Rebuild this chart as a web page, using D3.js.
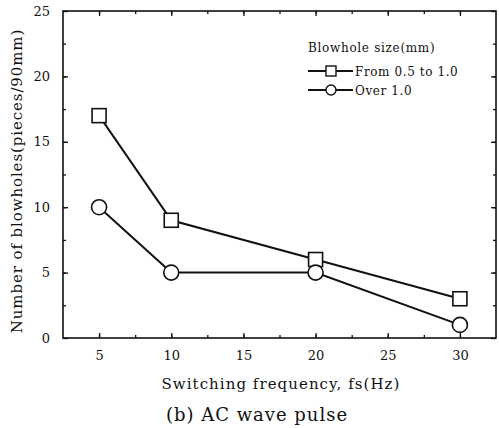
<!DOCTYPE html>
<html>
<head>
<meta charset="utf-8">
<script src="https://cdn.jsdelivr.net/npm/d3@7"></script>
<style>
  body { margin: 0; background: #fff; }
  text { font-family: "DejaVu Serif", "Liberation Serif", serif; fill: #111; }
</style>
</head>
<body>
<svg width="499" height="428"></svg>
<script>
// data
var freqs = [5, 10, 20, 30];
var smallHoles = [17, 9, 6, 3];   // From 0.5 to 1.0
var largeHoles = [10, 5, 5, 1];   // Over 1.0
var xTicks = [5, 10, 15, 20, 25, 30];
var yTicks = [0, 5, 10, 15, 20, 25];
var seriesNames = ["From 0.5 to 1.0", "Over 1.0"];

var svg = d3.select("svg");
var margin = { top: 11, right: 3, bottom: 90, left: 63 };
var width = 499 - margin.left - margin.right;
var height = 428 - margin.top - margin.bottom;

var g = svg.append("g")
    .attr("transform", "translate(" + margin.left + "," + margin.top + ")");

var x = d3.scaleLinear().domain([2.5, 32.5]).range([0, width]);
var y = d3.scaleLinear().domain([0, 25]).range([height, 0]);

// frame
g.append("rect")
    .attr("width", width).attr("height", height)
    .attr("fill", "none").attr("stroke", "#111").attr("stroke-width", 1.6);

var minorX = d3.range(5, 32.5, 2.5);
var minorY = d3.range(2.5, 25, 2.5);

// bottom axis (ticks inward)
var bottomAxis = g.append("g")
    .attr("transform", "translate(0," + height + ")")
    .call(d3.axisBottom(x).tickValues(xTicks).tickSize(-5).tickPadding(13).tickFormat(d3.format("d")));
bottomAxis.select(".domain").remove();
bottomAxis.selectAll("text").attr("font-size", 13).attr("font-family", "DejaVu Serif");
g.append("g")
    .attr("transform", "translate(0," + height + ")")
    .call(d3.axisBottom(x).tickValues(minorX).tickSize(-3).tickFormat(""))
    .select(".domain").remove();

// top axis
g.append("g")
    .call(d3.axisTop(x).tickValues(xTicks).tickSize(-5).tickFormat(""))
    .select(".domain").remove();
g.append("g")
    .call(d3.axisTop(x).tickValues(minorX).tickSize(-3).tickFormat(""))
    .select(".domain").remove();

// left axis
var leftAxis = g.append("g")
    .call(d3.axisLeft(y).tickValues(yTicks).tickSize(-5).tickPadding(13).tickFormat(d3.format("d")));
leftAxis.select(".domain").remove();
leftAxis.selectAll("text").attr("font-size", 13).attr("font-family", "DejaVu Serif");
g.append("g")
    .call(d3.axisLeft(y).tickValues(minorY).tickSize(-3).tickFormat(""))
    .select(".domain").remove();

// right axis
g.append("g")
    .attr("transform", "translate(" + width + ",0)")
    .call(d3.axisRight(y).tickValues(yTicks).tickSize(-5).tickFormat(""))
    .select(".domain").remove();
g.append("g")
    .attr("transform", "translate(" + width + ",0)")
    .call(d3.axisRight(y).tickValues(minorY).tickSize(-3).tickFormat(""))
    .select(".domain").remove();

g.selectAll(".tick line").attr("stroke", "#111").attr("stroke-width", 1.3);

// lines
var line = d3.line()
    .x(function(d) { return x(d[0]); })
    .y(function(d) { return y(d[1]); });

var sqData = d3.zip(freqs, smallHoles);
var ciData = d3.zip(freqs, largeHoles);

[sqData, ciData].forEach(function(data) {
    g.append("path")
        .datum(data)
        .attr("fill", "none")
        .attr("stroke", "#111")
        .attr("stroke-width", 2)
        .attr("d", line);
});

var sq = 14;
g.selectAll(".sq").data(sqData).enter().append("rect")
    .attr("x", function(d) { return x(d[0]) - sq / 2; })
    .attr("y", function(d) { return y(d[1]) - sq / 2; })
    .attr("width", sq).attr("height", sq)
    .attr("fill", "#fff").attr("stroke", "#111").attr("stroke-width", 1.6);

g.selectAll(".ci").data(ciData).enter().append("circle")
    .attr("cx", function(d) { return x(d[0]); })
    .attr("cy", function(d) { return y(d[1]); })
    .attr("r", 7.5)
    .attr("fill", "#fff").attr("stroke", "#111").attr("stroke-width", 1.6);

// axis titles
svg.append("text")
    .attr("x", 281).attr("y", 389)
    .attr("text-anchor", "middle")
    .attr("font-size", 15)
    .attr("letter-spacing", 1.05)
    .text("Switching frequency, fs(Hz)");

svg.append("text")
    .attr("transform", "translate(22,181) rotate(-90)")
    .attr("text-anchor", "middle")
    .attr("font-size", 15)
    .attr("letter-spacing", 0.9)
    .text("Number of blowholes(pieces/90mm)");

svg.append("text")
    .attr("x", 257).attr("y", 421)
    .attr("text-anchor", "middle")
    .attr("font-size", 18)
    .attr("letter-spacing", 1)
    .text("(b) AC wave pulse");

// legend
var legend = svg.append("g").attr("transform", "translate(308,0)");
legend.append("text")
    .attr("x", 0).attr("y", 52)
    .attr("font-size", 12)
    .attr("letter-spacing", 0.7)
    .text("Blowhole size(mm)");

seriesNames.forEach(function(name, i) {
    var ly = 71 + i * 19;
    legend.append("line")
        .attr("x1", 0).attr("x2", 45).attr("y1", ly).attr("y2", ly)
        .attr("stroke", "#111").attr("stroke-width", 1.8);
    if (i === 0) {
        legend.append("rect")
            .attr("x", 23 - 5).attr("y", ly - 5).attr("width", 10).attr("height", 10)
            .attr("fill", "#fff").attr("stroke", "#111").attr("stroke-width", 1.4);
    } else {
        legend.append("circle")
            .attr("cx", 23).attr("cy", ly).attr("r", 5)
            .attr("fill", "#fff").attr("stroke", "#111").attr("stroke-width", 1.4);
    }
    legend.append("text")
        .attr("x", 47).attr("y", ly + 4.5)
        .attr("font-size", 12)
        .attr("letter-spacing", 0.6)
        .text(name);
});
</script>
</body>
</html>
